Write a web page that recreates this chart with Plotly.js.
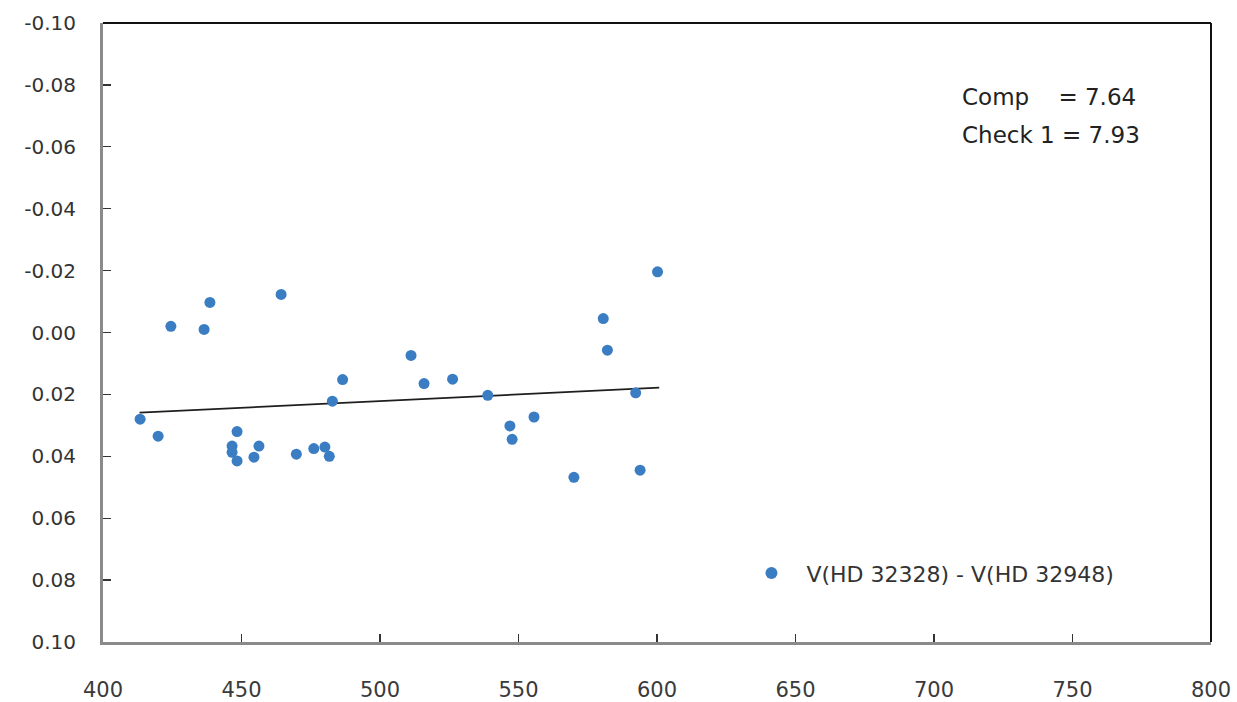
<!DOCTYPE html>
<html>
<head>
<meta charset="utf-8">
<script src="https://cdn.plot.ly/plotly-3.0.1.min.js"></script>
<style>
  html, body { margin: 0; padding: 0; background: #fff; }
  #chart { width: 1237px; height: 702px; }
</style>
</head>
<body>
<div id="chart"></div>
<script>
// Wavelength (nm) of each observation
const wavelength = [
  413.4, 419.9, 424.5, 436.5, 438.6, 446.6, 446.6, 448.4, 448.4, 454.5,
  456.3, 464.3, 469.8, 476.1, 480.1, 481.7, 482.8, 486.5, 511.2, 515.9,
  526.2, 538.9, 546.9, 547.7, 555.6, 570.0, 580.6, 582.1, 592.3, 593.9,
  600.2
];

// Magnitude difference V(HD 32328) - V(HD 32948)
const deltaV = [
  0.0280, 0.0335, -0.0020, -0.0010, -0.0097, 0.0367, 0.0387, 0.0320, 0.0415, 0.0403,
  0.0367, -0.0123, 0.0393, 0.0375, 0.0370, 0.0400, 0.0222, 0.0152, 0.0074, 0.0165,
  0.0151, 0.0203, 0.0302, 0.0345, 0.0273, 0.0468, -0.0045, 0.0057, 0.0195, 0.0445,
  -0.0196
];

// Linear trend across the observed range
const trendX = [413.2, 600.8];
const trendY = [0.0259, 0.0178];

const seriesName = 'V(HD 32328) - V(HD 32948)';
const noteLines = ['Comp\u00A0\u00A0\u00A0\u00A0= 7.64', 'Check 1 = 7.93'];

const xTicks = [400, 450, 500, 550, 600, 650, 700, 750, 800];
const yTicks = [-0.10, -0.08, -0.06, -0.04, -0.02, 0.00, 0.02, 0.04, 0.06, 0.08, 0.10];

const blue = '#3b7dc3';

const traces = [
  {
    x: trendX, y: trendY,
    type: 'scatter', mode: 'lines',
    line: { color: '#1e1e1e', width: 1.8 },
    showlegend: false, hoverinfo: 'skip'
  },
  {
    x: wavelength, y: deltaV,
    type: 'scatter', mode: 'markers',
    name: seriesName,
    marker: { color: blue, size: 11 }
  }
];

const layout = {
  width: 1237, height: 702,
  margin: { l: 103, r: 26, t: 23, b: 60 },
  paper_bgcolor: '#ffffff', plot_bgcolor: '#ffffff',
  showlegend: true,
  legend: {
    x: 0.5717, y: 0.111, xanchor: 'left', yanchor: 'middle',
    bgcolor: 'rgba(0,0,0,0)',
    itemwidth: 60,
    font: { family: 'DejaVu Sans, sans-serif', size: 22, color: '#333333' },
    itemsizing: 'constant'
  },
  xaxis: {
    range: [400, 800],
    tickvals: xTicks,
    ticktext: xTicks.map(String),
    ticks: 'inside', ticklen: 8, tickwidth: 1.2, tickcolor: '#333',
    showgrid: false, zeroline: false,
    showline: true, linecolor: '#8a8a8a', linewidth: 3,
    ticklabelstandoff: 27,
    tickfont: { family: 'DejaVu Sans, sans-serif', size: 21, color: '#3a3a3a' }
  },
  yaxis: {
    range: [0.10, -0.10],
    tickvals: yTicks,
    ticktext: yTicks.map(v => v.toFixed(2)),
    ticks: 'inside', ticklen: 8, tickwidth: 1.2, tickcolor: '#333',
    showgrid: false, zeroline: false,
    showline: true, linecolor: '#8a8a8a', linewidth: 3,
    ticklabelstandoff: 20,
    tickfont: { family: 'DejaVu Sans, sans-serif', size: 20, color: '#333333' }
  },
  shapes: [
    { type: 'line', xref: 'paper', yref: 'paper', x0: 0, x1: 1, y0: 1, y1: 1,
      line: { color: '#111', width: 2 } },
    { type: 'line', xref: 'paper', yref: 'paper', x0: 1, x1: 1, y0: 0, y1: 1,
      line: { color: '#111', width: 2 } }
  ],
  annotations: noteLines.map((t, i) => ({
    text: t, xref: 'paper', yref: 'paper',
    x: 0.7735, y: 0.880 - i * 0.0613,
    xanchor: 'left', yanchor: 'middle', showarrow: false,
    font: { family: 'DejaVu Sans, sans-serif', size: 23, color: '#222222' }
  }))
};

Plotly.newPlot('chart', traces, layout, { displayModeBar: false, staticPlot: true });
</script>
</body>
</html>
